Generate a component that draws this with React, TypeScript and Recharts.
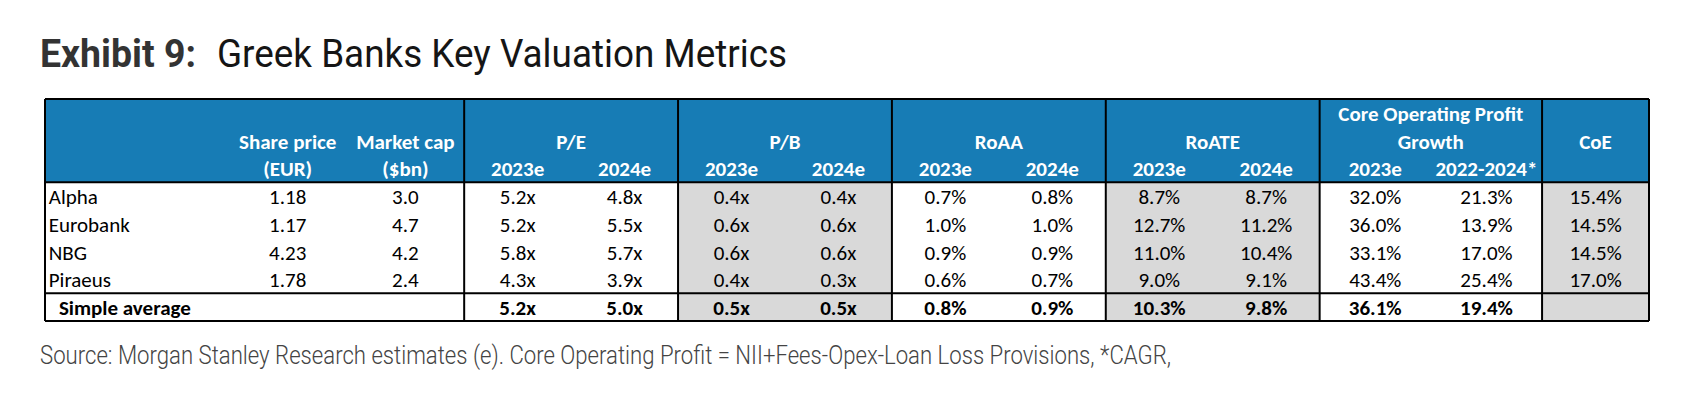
import React from 'react';
import { ComposedChart, XAxis, YAxis, Scatter, ReferenceArea, ReferenceLine } from 'recharts';

// ---------- data ----------
const banks = ['Alpha', 'Eurobank', 'NBG', 'Piraeus'];
const sharePrice = [1.18, 1.17, 4.23, 1.78];
const marketCap = [3.0, 4.7, 4.2, 2.4];
const pe2023 = [5.2, 5.2, 5.8, 4.3];
const pe2024 = [4.8, 5.5, 5.7, 3.9];
const pb2023 = [0.4, 0.6, 0.6, 0.4];
const pb2024 = [0.4, 0.6, 0.6, 0.3];
const roaa2023 = [0.7, 1.0, 0.9, 0.6];
const roaa2024 = [0.8, 1.0, 0.9, 0.7];
const roate2023 = [8.7, 12.7, 11.0, 9.0];
const roate2024 = [8.7, 11.2, 10.4, 9.1];
const cop2023 = [32.0, 36.0, 33.1, 43.4];
const copCagr = [21.3, 13.9, 17.0, 25.4];
const coe = [15.4, 14.5, 14.5, 17.0];
const averageLabel = 'Simple average';
const avgPe = [5.2, 5.0];
const avgPb = [0.5, 0.5];
const avgRoaa = [0.8, 0.9];
const avgRoate = [10.3, 9.8];
const avgCop = [36.1, 19.4];

const groupHeaders = ['P/E', 'P/B', 'RoAA', 'RoATE'];
const yearHeaders = ['2023e', '2024e'];
const copHeaderTop = 'Core Operating Profit';
const copHeaderMid = 'Growth';
const copYearHeaders = ['2023e', '2022-2024*'];
const spHeader = ['Share price', '(EUR)'];
const mcHeader = ['Market cap', '($bn)'];
const coeHeader = 'CoE';

const titleBold = 'Exhibit 9:';
const titleRest = 'Greek Banks Key Valuation Metrics';
const sourceText =
  'Source: Morgan Stanley Research estimates (e). Core Operating Profit = NII+Fees-Opex-Loan Loss Provisions, *CAGR,';

// ---------- layout (column units / row units) ----------
const BOUNDS = [0, 3.92, 5.92, 7.92, 9.92, 11.92, 14, 15];
const COP_SPLIT = 12.96;
const X_NAME = 0.035;
const X_AVG = 0.13;
const X_SP = 2.27;
const X_MC = 3.37;
const pairCenters = (a: number, b: number, s?: number) => {
  const m = s ?? (a + b) / 2;
  return [(a + m) / 2, (m + b) / 2];
};
const PE_X = pairCenters(BOUNDS[1], BOUNDS[2]);
const PB_X = pairCenters(BOUNDS[2], BOUNDS[3]);
const ROAA_X = pairCenters(BOUNDS[3], BOUNDS[4]);
const ROATE_X = pairCenters(BOUNDS[4], BOUNDS[5]);
const COP_X = pairCenters(BOUNDS[5], BOUNDS[6], COP_SPLIT);
const COE_X = (BOUNDS[6] + BOUNDS[7]) / 2;

const BLUE = '#177CB5';
const GRAY = '#D9D9D9';
const FONT = 'Carlito, Calibri, Lato, sans-serif';

type Cell = { x: number; y: number; text: string; bold?: boolean; white?: boolean; anchor?: 'start' | 'middle' | 'end' };

const fx = (v: number) => v.toFixed(1) + 'x';
const fp = (v: number) => v.toFixed(1) + '%';

const cells: Cell[] = [];
// header
const H = (x: number, row: number, text: string) => cells.push({ x, y: row + 0.5, text, bold: true, white: true });
H((BOUNDS[5] + BOUNDS[6]) / 2, 0, copHeaderTop);
H(X_SP, 1, spHeader[0]);
H(X_MC, 1, mcHeader[0]);
groupHeaders.forEach((g, i) => H((BOUNDS[i + 1] + BOUNDS[i + 2]) / 2, 1, g));
H((BOUNDS[5] + BOUNDS[6]) / 2, 1, copHeaderMid);
H(COE_X, 1, coeHeader);
H(X_SP, 2, spHeader[1]);
H(X_MC, 2, mcHeader[1]);
[PE_X, PB_X, ROAA_X, ROATE_X].forEach((xs) => xs.forEach((x, j) => H(x, 2, yearHeaders[j])));
COP_X.forEach((x, j) => H(x, 2, copYearHeaders[j]));

// body
banks.forEach((b, i) => {
  const y = 3 + i + 0.5;
  cells.push({ x: X_NAME, y, text: b, anchor: 'start' });
  cells.push({ x: X_SP, y, text: sharePrice[i].toFixed(2) });
  cells.push({ x: X_MC, y, text: marketCap[i].toFixed(1) });
  cells.push({ x: PE_X[0], y, text: fx(pe2023[i]) });
  cells.push({ x: PE_X[1], y, text: fx(pe2024[i]) });
  cells.push({ x: PB_X[0], y, text: fx(pb2023[i]) });
  cells.push({ x: PB_X[1], y, text: fx(pb2024[i]) });
  cells.push({ x: ROAA_X[0], y, text: fp(roaa2023[i]) });
  cells.push({ x: ROAA_X[1], y, text: fp(roaa2024[i]) });
  cells.push({ x: ROATE_X[0], y, text: fp(roate2023[i]) });
  cells.push({ x: ROATE_X[1], y, text: fp(roate2024[i]) });
  cells.push({ x: COP_X[0], y, text: fp(cop2023[i]) });
  cells.push({ x: COP_X[1], y, text: fp(copCagr[i]) });
  cells.push({ x: COE_X, y, text: fp(coe[i]) });
});
// average row
const ay = 7.5;
cells.push({ x: X_AVG, y: ay, text: averageLabel, bold: true, anchor: 'start' });
[
  [PE_X, avgPe, fx],
  [PB_X, avgPb, fx],
  [ROAA_X, avgRoaa, fp],
  [ROATE_X, avgRoate, fp],
  [COP_X, avgCop, fp],
].forEach(([xs, vals, f]: any) => {
  xs.forEach((x: number, j: number) => cells.push({ x, y: ay, text: f(vals[j]), bold: true }));
});

const CellShape = (props: any) => {
  const { cx, cy, payload } = props;
  if (cx == null || cy == null) return <g />;
  return (
    <text
      x={cx}
      y={cy + 1}
      textAnchor={payload.anchor || 'middle'}
      dominantBaseline="central"
      fontFamily={FONT}
      fontSize={21}
      fontWeight={payload.bold ? 700 : 400}
      fill={payload.white ? '#FFFFFF' : '#000000'}
    >
      {payload.text}
    </text>
  );
};

const grayCols: [number, number][] = [
  [BOUNDS[2], BOUNDS[3]],
  [BOUNDS[4], BOUNDS[5]],
  [BOUNDS[6], BOUNDS[7]],
];

export default function App() {
  return (
    <div style={{ position: 'absolute', left: 0, top: 0, width: 1697, height: 400, background: '#fff' }}>
      <svg width={1697} height={400} style={{ position: 'absolute', left: 0, top: 0 }}>
        <text x={40} y={67} fontFamily="Roboto" fontWeight={700} fontSize={38} fill="#333333" textLength={156} lengthAdjust="spacingAndGlyphs">
          {titleBold}
        </text>
        <text x={217} y={67} fontFamily="Roboto" fontWeight={400} fontSize={38} fill="#151515" textLength={570} lengthAdjust="spacingAndGlyphs">
          {titleRest}
        </text>
        <text x={40} y={364} fontFamily="Roboto" fontWeight={300} fontSize={25} fill="#444444" textLength={1131} lengthAdjust="spacingAndGlyphs">
          {sourceText}
        </text>
      </svg>
      <div style={{ position: 'absolute', left: 0, top: 0 }}>
        <ComposedChart width={1697} height={400} margin={{ top: 99, left: 45, right: 48, bottom: 79 }}>
          <XAxis type="number" dataKey="x" domain={[0, 15]} hide allowDataOverflow />
          <YAxis type="number" dataKey="y" domain={[0, 8]} reversed hide allowDataOverflow />
          <ReferenceArea x1={0} x2={15} y1={0} y2={3} fill={BLUE} fillOpacity={1} stroke="none" />
          {grayCols.map(([a, b], i) => (
            <ReferenceArea key={'g' + i} x1={a} x2={b} y1={3} y2={8} fill={GRAY} fillOpacity={1} stroke="none" />
          ))}
          {BOUNDS.map((b, i) => (
            <ReferenceLine key={'v' + i} x={b} stroke="#000" strokeWidth={2} />
          ))}
          {[0, 3, 7, 8].map((r) => (
            <ReferenceLine key={'h' + r} y={r} stroke="#000" strokeWidth={2} />
          ))}
          <Scatter data={cells} shape={CellShape} isAnimationActive={false} />
        </ComposedChart>
      </div>
    </div>
  );
}
